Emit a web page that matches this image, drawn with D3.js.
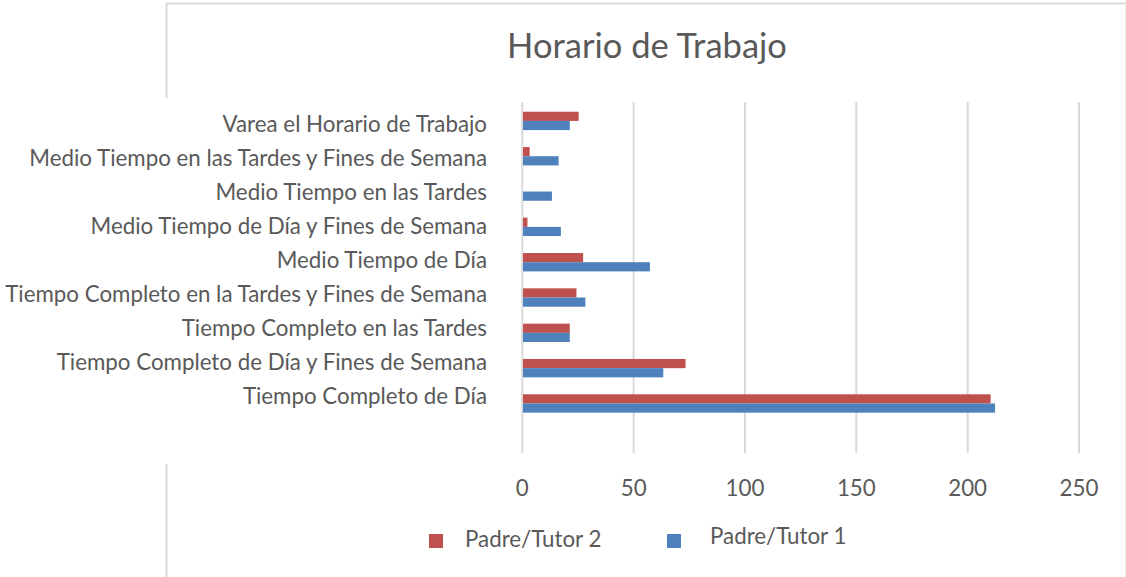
<!DOCTYPE html>
<html>
<head>
<meta charset="utf-8">
<script src="https://cdn.jsdelivr.net/npm/d3@7/dist/d3.min.js"></script>
<style>
  html, body { margin: 0; padding: 0; background: #fff; }
  svg { display: block; }
  text { font-family: Lato, "Open Sans", sans-serif; fill: #595959; }
</style>
</head>
<body>
<svg id="chart" width="1126" height="577"></svg>
<script>
const categories = [
  "Varea el Horario de Trabajo",
  "Medio Tiempo en las Tardes y Fines de Semana",
  "Medio Tiempo en las Tardes",
  "Medio Tiempo de Día y Fines de Semana",
  "Medio Tiempo de Día",
  "Tiempo Completo en la Tardes y Fines de Semana",
  "Tiempo Completo en las Tardes",
  "Tiempo Completo de Día y Fines de Semana",
  "Tiempo Completo de Día"
];
const seriesNames = ["Padre/Tutor 2", "Padre/Tutor 1"];
const tutor2 = [25, 3, 0, 2, 27, 24, 21, 73, 210];
const tutor1 = [21, 16, 13, 17, 57, 28, 21, 63, 212];
const xTicks = [0, 50, 100, 150, 200, 250];
const colors = ["#C0504D", "#4F81BD"];
const title = "Horario de Trabajo";

const svg = d3.select("#chart");

function fit(sel, target, base) {
  sel.style("font-size", base + "px");
  const w = sel.node().getComputedTextLength();
  sel.style("font-size", (base * target / w) + "px");
}

// chart border (partially hidden behind labels)
const bc = "#d9d9d9";
svg.append("line").attr("x1", 166.5).attr("x2", 1126).attr("y1", 3.5).attr("y2", 3.5)
  .attr("stroke", bc).attr("stroke-width", 2);
svg.append("line").attr("x1", 166.5).attr("x2", 166.5).attr("y1", 3).attr("y2", 98)
  .attr("stroke", bc).attr("stroke-width", 2);
svg.append("line").attr("x1", 166.5).attr("x2", 166.5).attr("y1", 464).attr("y2", 577)
  .attr("stroke", bc).attr("stroke-width", 2);
svg.append("line").attr("x1", 1125.5).attr("x2", 1125.5).attr("y1", 3).attr("y2", 577)
  .attr("stroke", "#f0f0f0").attr("stroke-width", 1);

// scales
const x = d3.scaleLinear().domain([0, 250]).range([522.3, 1079]);
const y = d3.scaleBand().domain(categories).range([103.25, 421.15])
  .paddingInner(0.48).paddingOuter(0.24);
const ySub = d3.scaleBand().domain(seriesNames).range([0, y.bandwidth()]);
const yLabel = d3.scalePoint().domain(categories).range([124, 396]);

// gridlines
svg.append("g").selectAll("line").data(xTicks).join("line")
  .attr("x1", d => x(d)).attr("x2", d => x(d))
  .attr("y1", 102).attr("y2", 453)
  .attr("stroke", "#d9d9d9").attr("stroke-width", 2);

// bars
const values = [tutor2, tutor1];
seriesNames.forEach((s, si) => {
  svg.append("g").selectAll("rect").data(categories).join("rect")
    .attr("x", x(0) + 0.7)
    .attr("y", d => y(d) + ySub(s))
    .attr("width", (d, i) => Math.max(0, x(values[si][i]) - x(0)))
    .attr("height", ySub.bandwidth())
    .attr("fill", colors[si]);
});

// category labels
const labG = svg.append("g");
const labs = labG.selectAll("text").data(categories).join("text")
  .attr("x", 487).attr("y", d => yLabel(d))
  .attr("dy", "0.35em")
  .attr("text-anchor", "end")
  .text(d => d);
// fit size using longest label width
const longest = labs.filter(d => d === "Tiempo Completo en la Tardes y Fines de Semana");
fit(longest, 482, 20);
labs.style("font-size", longest.style("font-size"));

// x tick labels
const tickG = svg.append("g");
const tl = tickG.selectAll("text").data(xTicks).join("text")
  .attr("x", d => x(d)).attr("y", 496)
  .attr("text-anchor", "middle")
  .text(d => d);
tl.style("font-size", longest.style("font-size"));

// title
const t = svg.append("text").attr("x", 647).attr("y", 58)
  .attr("text-anchor", "middle").text(title);
fit(t, 280, 30);

// legend
const legItems = [
  {name: seriesNames[0], color: colors[0], sx: 429, tx: 465, ty: 547},
  {name: seriesNames[1], color: colors[1], sx: 667, tx: 710, ty: 544}
];
const lg = svg.append("g");
legItems.forEach(it => {
  lg.append("rect").attr("x", it.sx).attr("y", 534).attr("width", 14).attr("height", 14)
    .attr("fill", it.color);
  const tx = lg.append("text").attr("x", it.tx).attr("y", it.ty).text(it.name)
    .style("font-size", longest.style("font-size"));
});
</script>
</body>
</html>
